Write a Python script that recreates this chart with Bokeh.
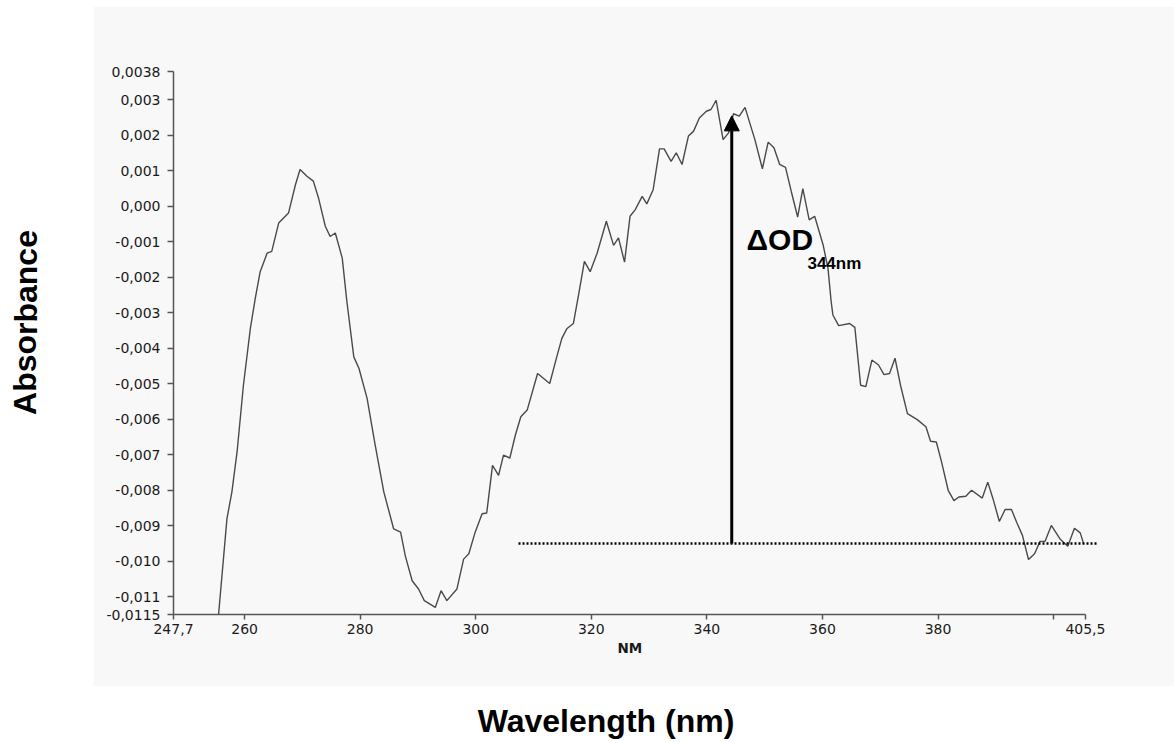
from bokeh.plotting import figure
from bokeh.models import FixedTicker, Range1d, Label, Arrow, NormalHead, Title, Spacer
from bokeh.layouts import row, column
from bokeh.embed import file_html
from bokeh.resources import INLINE

# ---- data ----
wavelength_nm = [
    255.5, 256.95, 257.8, 258.7, 259.8, 261.0, 261.85, 262.7, 263.9, 264.7,
    265.9, 267.6, 268.8, 269.6, 270.8, 271.9, 272.8, 273.97, 274.8, 275.7,
    276.9, 277.7, 278.9, 279.8, 281.2, 282.6, 284.1, 285.8, 287.0, 287.8,
    289.0, 290.1, 291.1, 293.0, 294.0, 295.0, 296.75, 297.9, 298.8, 299.9,
    301.1, 301.9, 302.9, 303.95, 304.8, 305.9, 306.85, 307.8, 308.9, 310.7,
    312.8, 314.1, 314.9, 315.8, 316.9, 317.8, 318.8, 319.8, 321.0, 322.6,
    323.85, 324.7, 325.75, 326.7, 327.6, 328.8, 329.6, 330.7, 331.8, 332.6,
    333.8, 334.7, 335.7, 336.8, 337.7, 338.7, 339.9, 340.7, 341.6, 342.8,
    343.75, 344.6, 345.6, 346.6, 348.3, 349.6, 350.6, 351.6, 352.6, 353.6,
    354.6, 355.7, 356.6, 357.7, 358.65, 360.1, 360.95, 361.5, 361.8, 362.8,
    364.7, 365.6, 366.6, 367.5, 368.55, 369.7, 370.65, 371.6, 372.55, 373.5,
    374.7, 376.4, 377.9, 378.7, 379.7, 380.6, 381.75, 382.75, 383.6, 384.8,
    385.8, 387.65, 388.6, 389.6, 390.6, 391.6, 392.7, 393.6, 394.6, 395.65,
    396.7, 397.65, 398.5, 399.6, 401.1, 402.45, 403.6, 404.6, 405.2,
]
absorbance = [
    -0.01150, -0.00880, -0.00805, -0.00692, -0.00504, -0.00344, -0.00259, -0.00184, -0.00132, -0.00127,
    -0.00047, -0.00019, 0.00061, 0.00104, 0.00085, 0.00071, 0.00023, -0.00056, -0.00085, -0.00075,
    -0.00146, -0.00268, -0.00424, -0.00457, -0.00541, -0.00673, -0.00805, -0.00909, -0.00918, -0.00984,
    -0.01055, -0.01078, -0.01111, -0.01130, -0.01083, -0.01111, -0.01078, -0.00994, -0.00979, -0.00918,
    -0.00866, -0.00864, -0.00730, -0.00758, -0.00701, -0.00709, -0.00645, -0.00593, -0.00574, -0.00471,
    -0.00499, -0.00419, -0.00372, -0.00344, -0.00330, -0.00249, -0.00155, -0.00184, -0.00132, -0.00042,
    -0.00110, -0.00089, -0.00157, -0.00028, -0.00009, 0.00028, 0.00007, 0.00047, 0.00162, 0.00162,
    0.00127, 0.00151, 0.00118, 0.00198, 0.00212, 0.00249, 0.00268, 0.00273, 0.00299, 0.00188,
    0.00207, 0.00261, 0.00254, 0.00279, 0.00188, 0.00106, 0.00181, 0.00165, 0.00118, 0.00110,
    0.00042, -0.00030, 0.00050, -0.00038, -0.00028, -0.00108, -0.00174, -0.00268, -0.00306, -0.00336,
    -0.00330, -0.00341, -0.00504, -0.00508, -0.00433, -0.00447, -0.00474, -0.00471, -0.00428, -0.00504,
    -0.00584, -0.00601, -0.00621, -0.00662, -0.00664, -0.00720, -0.00800, -0.00829, -0.00819, -0.00817,
    -0.00800, -0.00822, -0.00777, -0.00829, -0.00888, -0.00854, -0.00854, -0.00890, -0.00927, -0.00995,
    -0.00979, -0.00944, -0.00944, -0.00899, -0.00937, -0.00958, -0.00907, -0.00920, -0.00951,
]

x_tick_values = [247.7, 260, 280, 300, 320, 340, 360, 380, 400, 405.5]
x_tick_labels = ["247,7", "260", "280", "300", "320", "340", "360", "380", "", "405,5"]
y_tick_values = [-0.0115, -0.011, -0.010, -0.009, -0.008, -0.007, -0.006, -0.005, -0.004,
                 -0.003, -0.002, -0.001, 0.0, 0.001, 0.002, 0.003, 0.0038]
y_tick_labels = ["-0,0115", "-0,011", "-0,010", "-0,009", "-0,008", "-0,007", "-0,006", "-0,005",
                 "-0,004", "-0,003", "-0,002", "-0,001", "0,000", "0,001", "0,002", "0,003", "0,0038"]

baseline_od = -0.0095
baseline_start_nm = 307.4
baseline_end_nm = 407.7
marker_nm = 344.3
marker_top_od = 0.00255

GRAY = "#f8f8f8"
TICK_FONT = "DejaVu Sans"
BOLD_FONT = "Liberation Sans"


def blank_figure(w, h):
    f = figure(width=w, height=h, x_range=Range1d(0, w), y_range=Range1d(0, h),
               output_backend="svg", toolbar_location=None, title=None,
               min_border=0, min_border_left=0, min_border_right=0,
               min_border_top=0, min_border_bottom=0)
    f.axis.visible = False
    f.grid.visible = False
    f.outline_line_color = None
    f.background_fill_color = "white"
    f.border_fill_color = "white"
    return f


# ---- main plot (scanned gray area) ----
p = figure(width=1081, height=680,
           x_range=Range1d(247.7, 416.76), y_range=Range1d(-0.0115, 0.0038),
           output_backend="svg", toolbar_location=None,
           min_border_left=80, min_border_right=24, min_border_top=65, min_border_bottom=72)
p.background_fill_color = GRAY
p.border_fill_color = GRAY
p.outline_line_color = None
p.xgrid.visible = False
p.ygrid.visible = False

for ax in (p.xaxis, p.yaxis):
    ax.axis_line_color = "#555555"
    ax.axis_line_width = 1.5
    ax.major_tick_line_color = "#555555"
    ax.major_tick_line_width = 1.5
    ax.minor_tick_line_color = None
    ax.major_tick_in = 0
    ax.major_label_text_font = TICK_FONT
    ax.major_label_text_font_size = "14px"
    ax.major_label_text_color = "#1a1a1a"

p.xaxis.ticker = FixedTicker(ticks=x_tick_values)
p.xaxis.major_label_overrides = dict(zip(x_tick_values, x_tick_labels))
p.xaxis.bounds = (x_tick_values[0], x_tick_values[-1])
p.xaxis.major_tick_out = 5
p.xaxis.major_label_standoff = 4

p.yaxis.ticker = FixedTicker(ticks=y_tick_values)
p.yaxis.major_label_overrides = dict(zip(y_tick_values, y_tick_labels))
p.yaxis.bounds = (y_tick_values[0], y_tick_values[-1])
p.yaxis.major_tick_out = 6
p.yaxis.major_label_standoff = 7

p.add_layout(Title(text="NM", align="left", offset=444, standoff=2,
                   text_font=TICK_FONT, text_font_size="13.5px", text_font_style="bold",
                   text_color="#1a1a1a"), "below")

# spectrum
p.line(wavelength_nm, absorbance, line_color="#4a4a4a", line_width=1.4)

# baseline and ΔOD arrow
p.line([baseline_start_nm, baseline_end_nm], [baseline_od, baseline_od],
       line_color="black", line_width=2.5, line_dash="2 2")
p.add_layout(Arrow(end=NormalHead(size=15, fill_color="black", line_color="black"),
                   x_start=marker_nm, y_start=baseline_od,
                   x_end=marker_nm, y_end=marker_top_od,
                   line_color="black", line_width=3))

p.add_layout(Label(x=346.85, y=-0.00094, text="ΔOD", text_font=BOLD_FONT,
                   text_font_size="30px", text_font_style="bold",
                   text_align="left", text_baseline="alphabetic", text_color="black"))
p.add_layout(Label(x=357.4, y=-0.00162, text="344nm", text_font=BOLD_FONT,
                   text_font_size="17px", text_font_style="bold",
                   text_align="left", text_baseline="alphabetic", text_color="black"))

# ---- left strip with the y title ----
left = blank_figure(93, 686)
left.add_layout(Label(x=25, y=364, text="Absorbance", text_font=BOLD_FONT,
                      text_font_size="32px", text_font_style="bold", angle=1.5707963,
                      text_align="center", text_baseline="middle", text_color="black"))

# ---- bottom strip with the x title ----
bottom = blank_figure(1174, 56)
bottom.add_layout(Label(x=605.5, y=22, text="Wavelength (nm)", text_font=BOLD_FONT,
                        text_font_size="32px", text_font_style="bold",
                        text_align="center", text_baseline="alphabetic", text_color="black"))

main_col = column(Spacer(width=1081, height=6), p, spacing=0)
layout = column(row(left, main_col, spacing=0), bottom, spacing=0)
open("out.html", "w").write(file_html(layout, INLINE))
